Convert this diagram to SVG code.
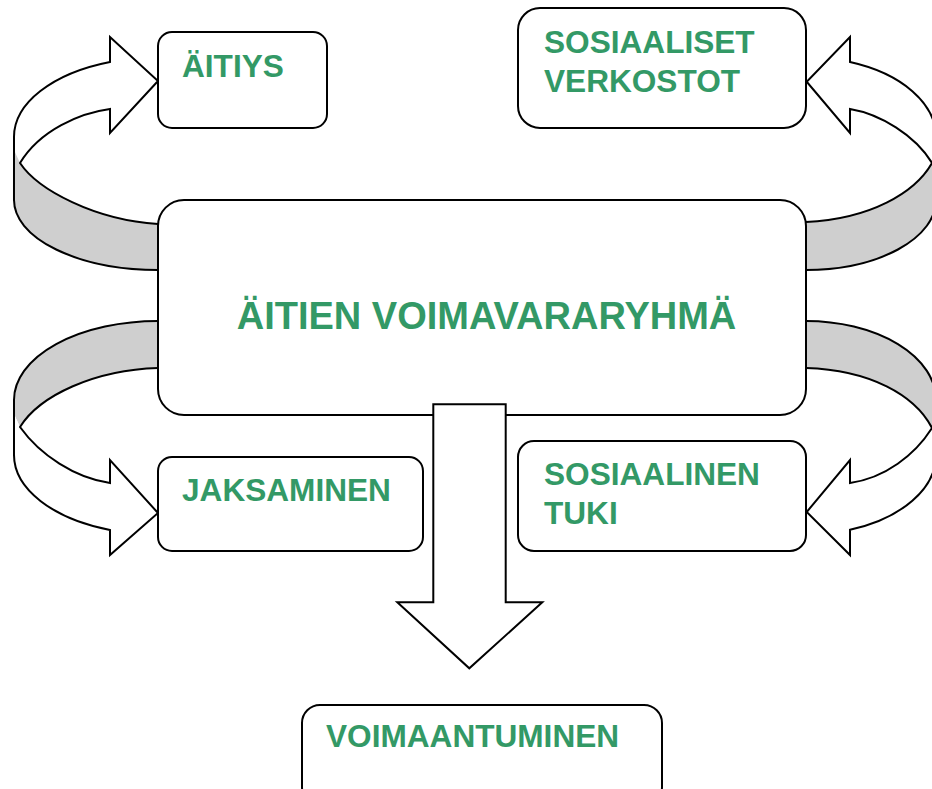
<svg xmlns="http://www.w3.org/2000/svg" width="932" height="789" viewBox="0 0 932 789">
<style>
.band{fill:#cfcfcf;stroke:none}
.wf{fill:#ffffff;stroke:none}
.ln{fill:none;stroke:#000;stroke-width:2;stroke-linejoin:miter}
.box{fill:#ffffff;stroke:#000;stroke-width:2}
.t{font-family:"Liberation Sans",Arial,sans-serif;font-weight:bold;font-size:31.6px;fill:#339966}
.big{font-size:38px}
</style>
<rect width="932" height="789" fill="#ffffff"/>
<g id="connectors">
  <g id="arrow-top-left">
    <path class="wf" d="M14,137 A144 79.5 0 0 1 110,62 L110,37 L158,81 L110,133 L110,109 C80,113 40,130 20,163 L14,150 Z"/>
    <path class="band" d="M14,150 L20,163 C38,190 95,220 158,224 L158,270 A144 70 0 0 1 14,200 Z"/>
    <path class="ln" d="M158,270 A144 70 0 0 1 14,200 L14,137 A144 79.5 0 0 1 110,62 L110,37 L158,81 L110,133 L110,109 C80,113 40,130 20,163 C38,190 95,220 158,224"/>
  </g>
  <g id="arrow-bottom-left">
    <path class="band" d="M158,321 A144 79 0 0 0 14,400 L14,414 L20,427 C40,395 95,370 158,368 Z"/>
    <path class="wf" d="M14,400 L14,455 A144 79.5 0 0 0 110,530 L110,555 L158,513 L110,460 L110,483 C75,478 40,455 20,427 L14,414 Z"/>
    <path class="ln" d="M158,368 C95,370 40,395 20,427 C40,455 75,478 110,483 L110,460 L158,513 L110,555 L110,530 A144 79.5 0 0 1 14,455 L14,400 A144 79 0 0 1 158,321"/>
  </g>
  <g id="arrow-top-right">
    <path class="wf" d="M936,137 A130 79.7 0 0 0 850,62 L850,37 L806.7,81.7 L850,133 L850,109 C880,114 915,135 932,163 L936,150 Z"/>
    <path class="band" d="M936,150 L932,163 C915,193 870,219 806,222 L806,270 A130 70 0 0 0 936,200 Z"/>
    <path class="ln" d="M806,270 A130 70 0 0 0 936,200 L936,137 A130 79.7 0 0 0 850,62 L850,37 L806.7,81.7 L850,133 L850,109 C880,114 915,135 932,163 C915,193 870,219 806,222"/>
  </g>
  <g id="arrow-bottom-right">
    <path class="band" d="M806,321 A130 79 0 0 1 936,400 L936,414 L932,428 C915,395 870,370 806,368 Z"/>
    <path class="wf" d="M936,400 L936,455 A130 79.5 0 0 1 850,529.8 L850,555 L806.7,512 L850,460 L850,483 C885,478 915,455 932,428 L936,414 Z"/>
    <path class="ln" d="M806,321 A130 79 0 0 1 936,400 L936,455 A130 79.5 0 0 1 850,529.8 L850,555 L806.7,512 L850,460 L850,483 C885,478 915,455 932,428 C915,395 870,370 806,368"/>
  </g>
</g>
<g id="node-main">
  <rect class="box" x="158" y="200" width="648" height="215" rx="26"/>
  <text class="t big" x="486.5" y="329" text-anchor="middle">ÄITIEN VOIMAVARARYHMÄ</text>
</g>
<g id="arrow-down">
  <path class="box" d="M433.3,404.3 L505.7,404.3 L505.7,602.3 L542.3,602.3 L469.3,668.3 L397.3,602.3 L433.3,602.3 Z"/>
</g>
<g id="node-aitiys">
  <rect class="box" x="158" y="32" width="169" height="96" rx="14"/>
  <text class="t" x="182" y="77">ÄITIYS</text>
</g>
<g id="node-sosiaaliset">
  <rect class="box" x="518" y="8" width="288" height="120" rx="22"/>
  <text class="t" x="544" y="53">SOSIAALISET</text>
  <text class="t" x="544" y="92">VERKOSTOT</text>
</g>
<g id="node-jaksaminen">
  <rect class="box" x="158" y="457" width="265" height="94" rx="14"/>
  <text class="t" x="182" y="501">JAKSAMINEN</text>
</g>
<g id="node-sosiaalinen">
  <rect class="box" x="518" y="441" width="288" height="110" rx="16"/>
  <text class="t" x="544" y="485">SOSIAALINEN</text>
  <text class="t" x="544" y="524">TUKI</text>
</g>
<g id="node-voimaantuminen">
  <rect class="box" x="302" y="705" width="360" height="100" rx="18"/>
  <text class="t" x="326" y="747">VOIMAANTUMINEN</text>
</g>
</svg>
